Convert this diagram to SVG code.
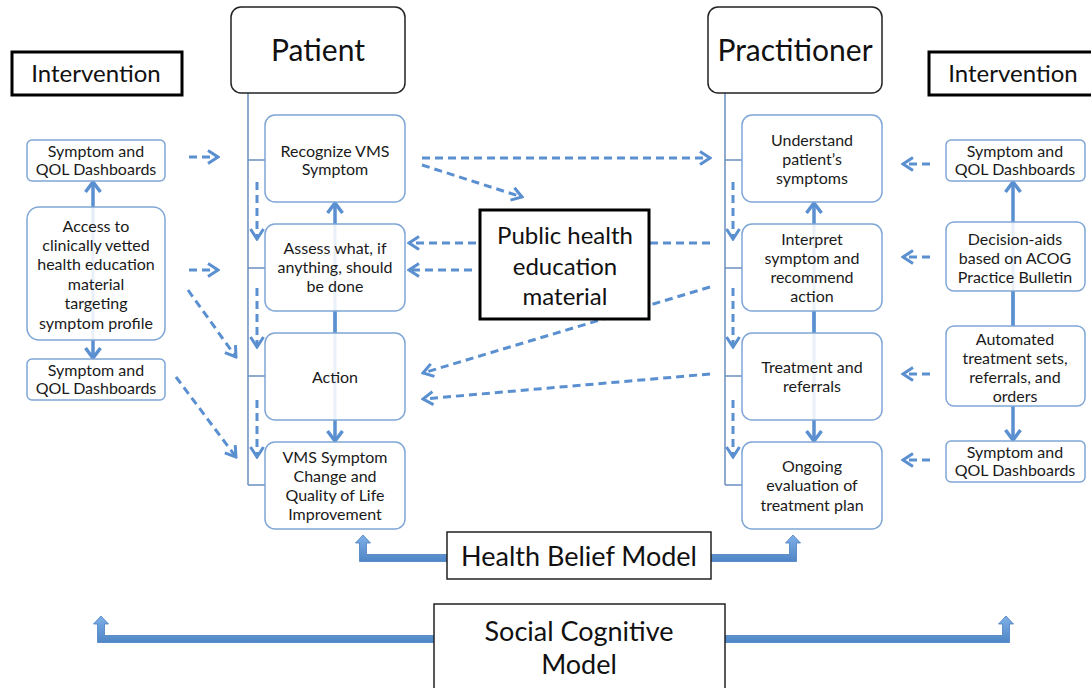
<svg xmlns="http://www.w3.org/2000/svg" width="1091" height="688" viewBox="0 0 1091 688">
<defs>
<style>
.t{font-family:Lato,"Open Sans","Liberation Sans",sans-serif;font-size:16px;fill:#1a1a1a;text-anchor:middle}
.big{font-family:Lato,"Open Sans","Liberation Sans",sans-serif;fill:#111;text-anchor:middle}
.box{fill:#fff;fill-opacity:0.85;stroke:#7fa6d6;stroke-width:1.5}
.hdr{fill:#fff;stroke:#222;stroke-width:1.5}
.blk{fill:#fff;stroke:#000;stroke-width:3}
.thin{fill:#fff;stroke:#222;stroke-width:1.5}
.spine{stroke:#6b8fbf;stroke-width:1.5;fill:none}
.dash{stroke:#5a8fd0;stroke-width:3;fill:none;stroke-dasharray:8 5;marker-end:url(#ch)}
.sol{stroke:#5a8fd0;stroke-width:3.5;fill:none;marker-end:url(#chs)}
.soln{stroke:#5a8fd0;stroke-width:3.5;fill:none}
.faint{stroke:#5a8fd0;stroke-width:3;fill:none;opacity:0.9}
.bar{fill:url(#g);stroke:#4a7fc0;stroke-width:0.8}
</style>
<marker id="ch" markerUnits="userSpaceOnUse" viewBox="0 0 14 16" refX="12" refY="8" markerWidth="14" markerHeight="16" orient="auto">
<polyline points="2,1.5 12,8 2,14.5" fill="none" stroke="#5a8fd0" stroke-width="3"/>
</marker>
<marker id="chs" markerUnits="userSpaceOnUse" viewBox="0 0 14 18" refX="12" refY="9" markerWidth="14" markerHeight="18" orient="auto">
<polyline points="2,1.5 12,9 2,16.5" fill="none" stroke="#5a8fd0" stroke-width="3.5"/>
</marker>
<linearGradient id="g" x1="0" y1="0" x2="0" y2="1">
<stop offset="0" stop-color="#7fb0e8"/>
<stop offset="1" stop-color="#4f86c6"/>
</linearGradient>
</defs>
<rect width="1091" height="688" fill="#fff"/>

<g id="connectors">
<path class="spine" d="M248,93 V485 M248,160 H265 M248,268 H265 M248,376 H265 M248,485 H265"/>
<path class="spine" d="M725,93 V485 M725,160 H742 M725,268 H742 M725,376 H742 M725,485 H742"/>
<line class="faint" x1="93" y1="230" x2="93" y2="340"/>
<line class="sol" x1="93" y1="230" x2="93" y2="182"/>
<line class="sol" x1="93" y1="340" x2="93" y2="358"/>
<line class="dash" x1="189" y1="157" x2="218" y2="157"/>
<line class="dash" x1="189" y1="270" x2="218" y2="270"/>
<line class="dash" x1="188" y1="290" x2="236" y2="357"/>
<line class="dash" x1="176" y1="377" x2="236" y2="457"/>
<line class="dash" x1="257" y1="182" x2="257" y2="239"/>
<line class="dash" x1="257" y1="288" x2="257" y2="347"/>
<line class="dash" x1="257" y1="400" x2="257" y2="457"/>
<line class="faint" x1="335" y1="224" x2="335" y2="420"/>
<line class="sol" x1="335" y1="226" x2="335" y2="203"/>
<line class="soln" x1="335" y1="311" x2="335" y2="333"/>
<line class="sol" x1="335" y1="420" x2="335" y2="441"/>
<line class="dash" x1="422" y1="158" x2="710" y2="158"/>
<line class="dash" x1="422" y1="165" x2="522" y2="197"/>
<line class="dash" x1="710" y1="243" x2="409" y2="243"/>
<line class="dash" x1="472" y1="270" x2="409" y2="270"/>
<line class="dash" x1="710" y1="287" x2="423" y2="373"/>
<line class="dash" x1="710" y1="374" x2="423" y2="399"/>
<line class="dash" x1="733" y1="182" x2="733" y2="239"/>
<line class="dash" x1="733" y1="288" x2="733" y2="347"/>
<line class="dash" x1="733" y1="400" x2="733" y2="457"/>
<line class="faint" x1="814" y1="224" x2="814" y2="420"/>
<line class="sol" x1="814" y1="226" x2="814" y2="203"/>
<line class="soln" x1="814" y1="311" x2="814" y2="333"/>
<line class="sol" x1="814" y1="420" x2="814" y2="441"/>
<line class="faint" x1="1013" y1="222" x2="1013" y2="326"/>
<line class="sol" x1="1013" y1="224" x2="1013" y2="182"/>
<line class="soln" x1="1013" y1="291" x2="1013" y2="326"/>
<line class="sol" x1="1013" y1="406" x2="1013" y2="440"/>
<line class="dash" x1="930" y1="164" x2="903" y2="164"/>
<line class="dash" x1="930" y1="257" x2="903" y2="257"/>
<line class="dash" x1="930" y1="374" x2="903" y2="374"/>
<line class="dash" x1="930" y1="460" x2="903" y2="460"/>
<path class="bar" d="M447,554.5 L366.5,554.5 L366.5,543 L370.5,543 L363,535 L355.5,543 L359.5,543 L359.5,561.5 L447,561.5 Z"/>
<path class="bar" d="M711,554.5 L789.5,554.5 L789.5,543 L785.5,543 L793,535 L800.5,543 L796.5,543 L796.5,561.5 L711,561.5 Z"/>
<path class="bar" d="M434,635.5 L104.5,635.5 L104.5,624 L108.5,624 L101,616 L93.5,624 L97.5,624 L97.5,642.5 L434,642.5 Z"/>
<path class="bar" d="M725,635.5 L1002.5,635.5 L1002.5,624 L998.5,624 L1006,616 L1013.5,624 L1009.5,624 L1009.5,642.5 L725,642.5 Z"/>
</g>

<g id="intervention-left">
<rect class="blk" x="12" y="52" width="170" height="43"/>
<text class="big" x="96" y="82" font-size="24">Intervention</text>
</g>
<g id="intervention-right">
<rect class="blk" x="929" y="52" width="170" height="43"/>
<text class="big" x="1013" y="82" font-size="24">Intervention</text>
</g>

<g id="patient">
<rect class="hdr" x="231" y="7" width="174" height="86" rx="10"/>
<text class="big" x="318" y="61" font-size="30">Patient</text>
</g>
<g id="practitioner">
<rect class="hdr" x="708" y="7" width="174" height="86" rx="10"/>
<text class="big" x="795" y="61" font-size="30">Practitioner</text>
</g>

<g id="l-dash1">
<rect class="box" x="27" y="140" width="138" height="41" rx="5"/>
<text class="t" x="96" y="157">Symptom and</text>
<text class="t" x="96" y="175">QOL Dashboards</text>
</g>
<g id="l-access">
<rect class="box" x="27" y="207" width="138" height="133" rx="12"/>
<text class="t" x="96" y="232">Access to</text>
<text class="t" x="96" y="251">clinically vetted</text>
<text class="t" x="96" y="270">health education</text>
<text class="t" x="96" y="290">material</text>
<text class="t" x="96" y="309">targeting</text>
<text class="t" x="96" y="329">symptom profile</text>
</g>
<g id="l-dash2">
<rect class="box" x="27" y="359" width="138" height="41" rx="5"/>
<text class="t" x="96" y="376">Symptom and</text>
<text class="t" x="96" y="394">QOL Dashboards</text>
</g>

<g id="p-recognize">
<rect class="box" x="265" y="115" width="140" height="87" rx="10"/>
<text class="t" x="335" y="157">Recognize VMS</text>
<text class="t" x="335" y="175">Symptom</text>
</g>
<g id="p-assess">
<rect class="box" x="265" y="224" width="140" height="87" rx="10"/>
<text class="t" x="335" y="254">Assess what, if</text>
<text class="t" x="335" y="273">anything, should</text>
<text class="t" x="335" y="292">be done</text>
</g>
<g id="p-action">
<rect class="box" x="265" y="333" width="140" height="87" rx="10"/>
<text class="t" x="335" y="383">Action</text>
</g>
<g id="p-vms">
<rect class="box" x="265" y="442" width="140" height="87" rx="10"/>
<text class="t" x="335" y="463">VMS Symptom</text>
<text class="t" x="335" y="482">Change and</text>
<text class="t" x="335" y="501">Quality of Life</text>
<text class="t" x="335" y="520">Improvement</text>
</g>

<g id="public-health">
<rect class="blk" x="480" y="210" width="169" height="109" fill="#fff" stroke-width="2.5"/>
<text class="big" x="565" y="244" font-size="24">Public health</text>
<text class="big" x="565" y="275" font-size="24">education</text>
<text class="big" x="565" y="305" font-size="24">material</text>
</g>

<g id="r-understand">
<rect class="box" x="742" y="115" width="140" height="87" rx="10"/>
<text class="t" x="812" y="146">Understand</text>
<text class="t" x="812" y="165">patient’s</text>
<text class="t" x="812" y="184">symptoms</text>
</g>
<g id="r-interpret">
<rect class="box" x="742" y="224" width="140" height="87" rx="10"/>
<text class="t" x="812" y="245">Interpret</text>
<text class="t" x="812" y="264">symptom and</text>
<text class="t" x="812" y="283">recommend</text>
<text class="t" x="812" y="302">action</text>
</g>
<g id="r-treatment">
<rect class="box" x="742" y="333" width="140" height="87" rx="10"/>
<text class="t" x="812" y="373">Treatment and</text>
<text class="t" x="812" y="392">referrals</text>
</g>
<g id="r-ongoing">
<rect class="box" x="742" y="442" width="140" height="87" rx="10"/>
<text class="t" x="812" y="472">Ongoing</text>
<text class="t" x="812" y="491">evaluation of</text>
<text class="t" x="812" y="511">treatment plan</text>
</g>

<g id="ri-dash1">
<rect class="box" x="946" y="140" width="139" height="41" rx="5"/>
<text class="t" x="1015" y="157">Symptom and</text>
<text class="t" x="1015" y="175">QOL Dashboards</text>
</g>
<g id="ri-decision">
<rect class="box" x="946" y="222" width="139" height="69" rx="8"/>
<text class="t" x="1015" y="245">Decision-aids</text>
<text class="t" x="1015" y="264">based on ACOG</text>
<text class="t" x="1015" y="283">Practice Bulletin</text>
</g>
<g id="ri-automated">
<rect class="box" x="946" y="326" width="139" height="80" rx="8"/>
<text class="t" x="1015" y="345">Automated</text>
<text class="t" x="1015" y="364">treatment sets,</text>
<text class="t" x="1015" y="383">referrals, and</text>
<text class="t" x="1015" y="402">orders</text>
</g>
<g id="ri-dash3">
<rect class="box" x="946" y="441" width="139" height="41" rx="5"/>
<text class="t" x="1015" y="458">Symptom and</text>
<text class="t" x="1015" y="476">QOL Dashboards</text>
</g>

<g id="hbm">
<rect class="thin" x="447" y="532" width="264" height="47"/>
<text class="big" x="579" y="566" font-size="27">Health Belief Model</text>
</g>
<g id="scm">
<rect class="thin" x="434" y="604" width="291" height="86"/>
<text class="big" x="579" y="641" font-size="27">Social Cognitive</text>
<text class="big" x="579" y="674" font-size="27">Model</text>
</g>
</svg>
